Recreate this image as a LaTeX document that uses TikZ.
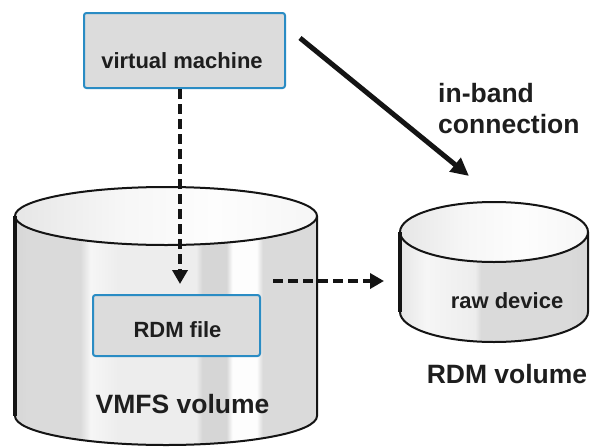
\documentclass[tikz,border=0pt]{standalone}
\usepackage{fontspec}
\setmainfont{Liberation Sans}
\usetikzlibrary{arrows.meta}

% palette
\definecolor{boxfill}{HTML}{DCDCDC}
\definecolor{boxline}{HTML}{2A8CC4}
\definecolor{txt}{HTML}{1E1E1E}
\definecolor{rim}{HTML}{141414}
\definecolor{ga}{HTML}{D6D6D6}
\definecolor{gb}{HTML}{DADADA}
\definecolor{gc}{HTML}{EDEDED}
\definecolor{gd}{HTML}{F6F6F6}
\definecolor{ge}{HTML}{E6E6E6}
\definecolor{wh}{HTML}{FDFDFD}

% side of the VMFS cylinder: vertical light and dark bands
\pgfdeclarehorizontalshading{bigside}{100bp}{%
  color(0bp)=(ga); color(25bp)=(ga); color(27bp)=(gb); color(35.8bp)=(gb);
  color(37.5bp)=(gd); color(42bp)=(gc); color(55bp)=(gc); color(56bp)=(ga);
  color(60bp)=(ga); color(61bp)=(wh); color(65bp)=(wh); color(66bp)=(gb);
  color(75bp)=(gb); color(100bp)=(gb)}
% side of the raw device cylinder
\pgfdeclarehorizontalshading{smallside}{100bp}{%
  color(0bp)=(ge); color(25bp)=(ge); color(32bp)=(gd); color(45bp)=(gc);
  color(46.5bp)=(gb); color(70bp)=(gb); color(75bp)=(ga); color(100bp)=(ga)}
% lids
\pgfdeclarehorizontalshading{lid}{100bp}{%
  color(0bp)=(ge); color(25bp)=(ge); color(42bp)=(gd); color(58bp)=(wh);
  color(75bp)=(gd); color(100bp)=(gd)}

\tikzset{
  boxnode/.style={draw=boxline, line width=2pt, fill=boxfill,
    rounded corners=2.5pt, inner sep=0pt},
  smalltext/.style={text=txt, font=\bfseries\fontsize{22}{26}\selectfont,
    inner sep=0pt},
  bigtext/.style={text=txt, font=\bfseries\fontsize{26.5}{31}\selectfont,
    inner sep=0pt},
  rimline/.style={draw=rim, line width=2pt},
  dasharrow/.style={draw=rim, line width=4.6pt, dash pattern=on 10pt off 5pt,
    -{Triangle[length=14pt,width=15pt]}},
  solidarrow/.style={draw=rim, line width=5pt,
    -{Triangle[length=18pt,width=17pt]}},
}

\begin{document}
\begin{tikzpicture}[x=1pt,y=-1pt]
\useasboundingbox (0,0) rectangle (591,447);
\fill[white] (0,0) rectangle (591,447);

% VMFS volume cylinder
\shade[shading=bigside] (15,216) -- (15,416)
  arc[start angle=180,end angle=360,x radius=151pt,y radius=29pt]
  -- (317,216) -- cycle;
\shade[shading=lid] (166,216) ellipse [x radius=151pt, y radius=29pt];
\draw[rimline] (15,216) -- (15,416)
  arc[start angle=180,end angle=360,x radius=151pt,y radius=29pt]
  -- (317,216);
\draw[rimline] (166,216) ellipse [x radius=151pt, y radius=29pt];
\draw[draw=rim, line width=3.2pt] (15,216) -- (15,416);

% RDM volume cylinder
\shade[shading=smallside] (400,232) -- (400,312)
  arc[start angle=180,end angle=360,x radius=94pt,y radius=30pt]
  -- (588,232) -- cycle;
\shade[shading=lid] (494,232) ellipse [x radius=94pt, y radius=30pt];
\draw[rimline] (400,232) -- (400,312)
  arc[start angle=180,end angle=360,x radius=94pt,y radius=30pt]
  -- (588,232);
\draw[rimline] (494,232) ellipse [x radius=94pt, y radius=30pt];
\draw[draw=rim, line width=3.2pt] (400,232) -- (400,312);

% boxes
\node[boxnode, minimum width=201pt, minimum height=75pt] (vm) at (184.5,50.5) {};
\node[smalltext, anchor=base] (vmlabel) at (182,68) {virtual machine};
\node[boxnode, minimum width=167pt, minimum height=61pt] (rdm) at (176.5,325.5) {};
\node[smalltext, anchor=base] (rdmlabel) at (177.5,337) {RDM file};

% labels
\node[smalltext, anchor=base] (raw) at (507,308) {raw device};
\node[bigtext, anchor=base] (vmfs) at (182.5,413) {VMFS volume};
\node[bigtext, anchor=base] (rdmvol) at (507,383) {RDM volume};
\node[bigtext, anchor=base west, align=left] (inband) at (438,133)
  {in-band\\connection};

% connectors
\coordinate (vmtip) at (180,284);
\coordinate (hstart) at (273,281);
\coordinate (htip) at (384,281);
\coordinate (bandstart) at (300,38);
\coordinate (bandtip) at (469,176);
\draw[dasharrow] (vm.south -| vmtip) -- (vmtip);
\draw[dasharrow] (hstart) -- (htip);
\draw[solidarrow] (bandstart) -- (bandtip);
\end{tikzpicture}
\end{document}
